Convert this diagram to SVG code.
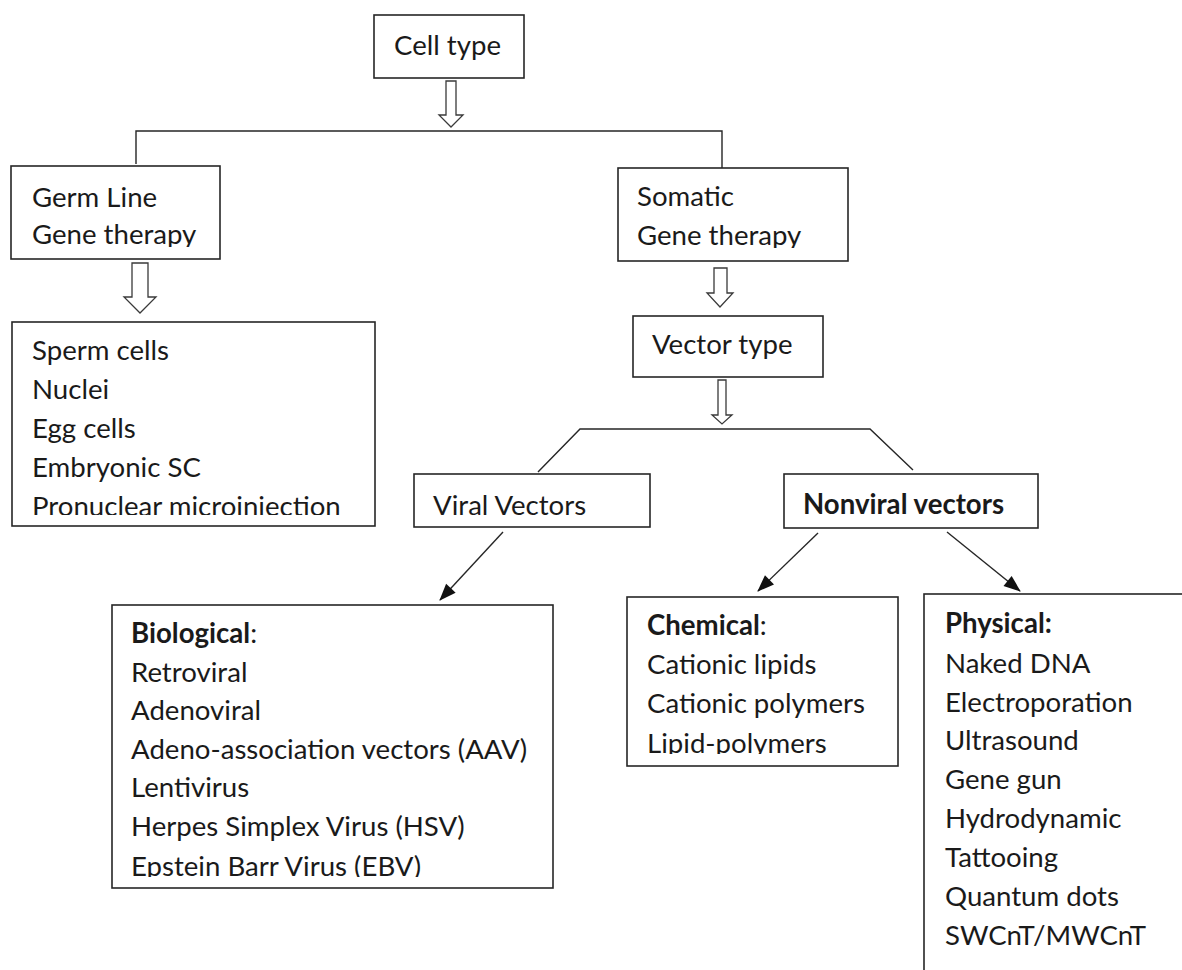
<svg xmlns="http://www.w3.org/2000/svg" width="1182" height="970" viewBox="0 0 1182 970">
<style>
.box{fill:#fff;stroke:#262626;stroke-width:1.6}
.t{font-family:Lato,"Liberation Sans",sans-serif;font-size:27.6px;fill:#1a1a1a}
.b{font-weight:bold}
.ln{fill:none;stroke:#262626;stroke-width:1.4}
.ha{fill:#fff;stroke:#3a3a3a;stroke-width:1.3}
.ar{fill:none;stroke:#262626;stroke-width:1.4;marker-end:url(#ah)}
</style>
<defs>
<marker id="ah" viewBox="0 0 10 10" refX="9" refY="5" markerWidth="10" markerHeight="10" markerUnits="userSpaceOnUse" orient="auto" overflow="visible">
<path d="M-7,-1.5 L10,5 L-7,11.5 z" fill="#111"/>
</marker>
<clipPath id="cGerm"><rect x="11" y="166" width="209" height="81"/></clipPath>
<clipPath id="cSom"><rect x="618" y="168" width="230" height="80"/></clipPath>
<clipPath id="cSperm"><rect x="12" y="322" width="363" height="193"/></clipPath>
<clipPath id="cBio"><rect x="112" y="605" width="441" height="272"/></clipPath>
<clipPath id="cChem"><rect x="627" y="597" width="271" height="157"/></clipPath>
</defs>

<g id="connectors">
<polygon class="ha" points="446,81 456,81 456,115 463,115 451,127 439,115 446,115"/>
<polyline class="ln" points="136,164 136,131 722,131 722,168"/>
<polygon class="ha" points="132,263 148,263 148,297 156,297 140,313 124,297 132,297"/>
<polygon class="ha" points="714,268 727,268 727,293 733,293 720,307 707,293 714,293"/>
<polygon class="ha" points="718,380 726,380 726,415 732,415 722,424 712,415 718,415"/>
<polyline class="ln" points="538,472 580,429 870,429 913,470"/>
<line class="ar" x1="503" y1="532" x2="440" y2="600"/>
<line class="ar" x1="818" y1="533" x2="758" y2="591"/>
<line class="ar" x1="947" y1="532" x2="1020" y2="591"/>
</g>

<g id="cell-type">
<rect class="box" x="374" y="15" width="150" height="63"/>
<text class="t" x="394" y="55">Cell type</text>
</g>

<g id="germ-line">
<rect class="box" x="11" y="166" width="209" height="93"/>
<g clip-path="url(#cGerm)">
<text class="t" x="32" y="207">Germ Line</text>
<text class="t" x="32" y="244">Gene therapy</text>
</g>
</g>

<g id="somatic">
<rect class="box" x="618" y="168" width="230" height="93"/>
<g clip-path="url(#cSom)">
<text class="t" x="637" y="206">Somatic</text>
<text class="t" x="637" y="245">Gene therapy</text>
</g>
</g>

<g id="germ-targets">
<rect class="box" x="12" y="322" width="363" height="204"/>
<g clip-path="url(#cSperm)">
<text class="t" x="32" y="360">Sperm cells</text>
<text class="t" x="32" y="399">Nuclei</text>
<text class="t" x="32" y="438">Egg cells</text>
<text class="t" x="32" y="477">Embryonic SC</text>
<text class="t" x="32" y="516">Pronuclear microinjection</text>
</g>
</g>

<g id="vector-type">
<rect class="box" x="633" y="316" width="190" height="61"/>
<text class="t" x="652" y="354">Vector type</text>
</g>

<g id="viral">
<rect class="box" x="414" y="474" width="236" height="53"/>
<text class="t" x="433" y="515">Viral Vectors</text>
</g>

<g id="nonviral">
<rect class="box" x="784" y="474" width="254" height="54"/>
<text class="t b" x="803" y="514">Nonviral vectors</text>
</g>

<g id="biological">
<rect class="box" x="112" y="605" width="441" height="283"/>
<g clip-path="url(#cBio)">
<text class="t" x="131" y="643"><tspan class="b">Biological</tspan>:</text>
<text class="t" x="131" y="682">Retroviral</text>
<text class="t" x="131" y="720">Adenoviral</text>
<text class="t" x="131" y="759">Adeno-association vectors (AAV)</text>
<text class="t" x="131" y="797">Lentivirus</text>
<text class="t" x="131" y="836">Herpes Simplex Virus (HSV)</text>
<text class="t" x="131" y="876">Epstein Barr Virus (EBV)</text>
</g>
</g>

<g id="chemical">
<rect class="box" x="627" y="597" width="271" height="169"/>
<g clip-path="url(#cChem)">
<text class="t" x="647" y="635"><tspan class="b">Chemical</tspan>:</text>
<text class="t" x="647" y="674">Cationic lipids</text>
<text class="t" x="647" y="713">Cationic polymers</text>
<text class="t" x="647" y="753">Lipid-polymers</text>
</g>
</g>

<g id="physical">
<rect class="box" x="924" y="594" width="270" height="400"/>
<text class="t b" x="945" y="633">Physical:</text>
<text class="t" x="945" y="673">Naked DNA</text>
<text class="t" x="945" y="712">Electroporation</text>
<text class="t" x="945" y="750">Ultrasound</text>
<text class="t" x="945" y="789">Gene gun</text>
<text class="t" x="945" y="828">Hydrodynamic</text>
<text class="t" x="945" y="867">Tattooing</text>
<text class="t" x="945" y="906">Quantum dots</text>
<text class="t" x="945" y="945">SWCnT/MWCnT</text>
</g>
</svg>
